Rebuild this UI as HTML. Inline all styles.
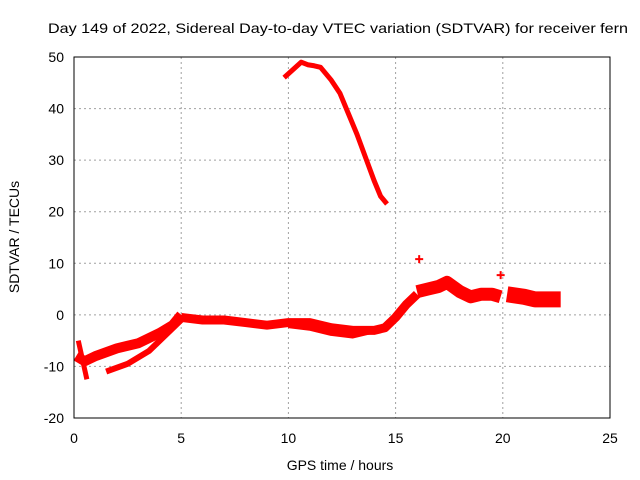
<!DOCTYPE html>
<html><head><meta charset="utf-8"><style>
body{margin:0;background:#fff;}
svg{display:block;font-family:"Liberation Sans",sans-serif;}
</style></head><body>
<svg id="chart" width="640" height="480" viewBox="0 0 640 480" xmlns="http://www.w3.org/2000/svg">
<text x="48" y="33" font-size="14" textLength="580" lengthAdjust="spacingAndGlyphs" fill="#000">Day 149 of 2022, Sidereal Day-to-day VTEC variation (SDTVAR) for receiver fern</text>
<text x="340" y="470" font-size="14" text-anchor="middle">GPS time / hours</text>
<text transform="translate(19,237) rotate(-90)" font-size="14" text-anchor="middle">SDTVAR / TECUs</text>
<g id="grid"></g>
<g id="ticks"></g>
<g id="marks"></g>
<rect x="74" y="57" width="536" height="361" fill="none" stroke="#000" stroke-width="1"/>
</svg>
<script>
const xTicks=[0,5,10,15,20,25];
const yTicks=[-20,-10,0,10,20,30,40,50];
const trackArcX=[9.8,10.2,10.6,10.9,11.2,11.5,12,12.4,12.8,13.2,13.6,14,14.3,14.6];
const trackArcY=[46,47.5,49,48.5,48.3,48,45.5,43,39,35,30.5,26,23,21.5];
const trackLowX=[0.1,0.5,1,2,3,4,4.6,5];
const trackLowY=[-8,-9,-8,-6.5,-5.5,-3.5,-2,0];
const trackLow2X=[1.5,2.5,3.5,4.5,5];
const trackLow2Y=[-11,-9.5,-7,-3,-1];
const trackSpikeX=[0.2,0.6];
const trackSpikeY=[-5,-12.5];
const trackMidX=[5,6,7,8,9,10,11,12,13,14,14.5,15,15.5,16];
const trackMidY=[-0.5,-1,-1,-1.5,-2,-1.5,-1.5,-2.5,-3,-3,-2.5,-0.5,2,4];
const trackMid2X=[10,11,12,13,14];
const trackMid2Y=[-2,-2.5,-3.5,-4,-3];
const trackRightX=[16,16.5,17,17.4,18,18.5,19,19.5,19.9];
const trackRightY=[4.5,5,5.5,6.3,4.5,3.5,4,4,3.5];
const trackRight2X=[20.2,21,21.5,22,22.7];
const trackRight2Y=[4,3.5,3,3,3];
const pointsX=[16.1,19.9];
const pointsY=[10.8,7.7];
const X=v=>74+v*536/25, Y=v=>418-(v+20)*361/70;
const NS="http://www.w3.org/2000/svg";
const grid=document.getElementById('grid'),ticks=document.getElementById('ticks'),marks=document.getElementById('marks');
function mk(t,a,p){const e=document.createElementNS(NS,t);for(const k in a)e.setAttribute(k,a[k]);p.appendChild(e);return e;}
xTicks.forEach(t=>{
 const l=mk('line',{x1:X(t),x2:X(t),y1:57,y2:418,stroke:'#a0a0a0','stroke-dasharray':'2,3'},grid);
 
 
 const tx=mk('text',{x:X(t),y:443,'font-size':14,'text-anchor':'middle'},ticks);tx.textContent=t;
 
 
});
yTicks.forEach(t=>{
 const l=mk('line',{x1:74,x2:610,y1:Y(t),y2:Y(t),stroke:'#a0a0a0','stroke-dasharray':'2,3'},grid);
 
 
 const tx=mk('text',{x:64,y:Y(t)+5,'font-size':14,'text-anchor':'end'},ticks);tx.textContent=t;
 
 
});
function track(xs,ys,w,name){
 const d=xs.map((x,i)=>(i?'L':'M')+X(x)+','+Y(ys[i])).join(' ');
 const p=mk('path',{d:d,fill:'none',stroke:'#ff0000','stroke-width':w,'stroke-linejoin':'round','stroke-linecap':'butt'},marks);
 
 
}
track(trackArcX,trackArcY,5,'track-arc');
track(trackLowX,trackLowY,10,'track-low');
track(trackLow2X,trackLow2Y,6,'track-low-2');
track(trackSpikeX,trackSpikeY,5,'track-spike');
track(trackMidX,trackMidY,9,'track-mid');
track(trackMid2X,trackMid2Y,6,'track-mid-2');
track(trackRightX,trackRightY,13,'track-right');
track(trackRight2X,trackRight2Y,16,'track-right-2');
pointsX.forEach((x,i)=>{
 const g=mk('path',{d:`M${X(x)-4},${Y(pointsY[i])}h8M${X(x)},${Y(pointsY[i])-4}v8`,stroke:'#ff0000','stroke-width':2},marks);
 
 
});
</script>
</body></html>
